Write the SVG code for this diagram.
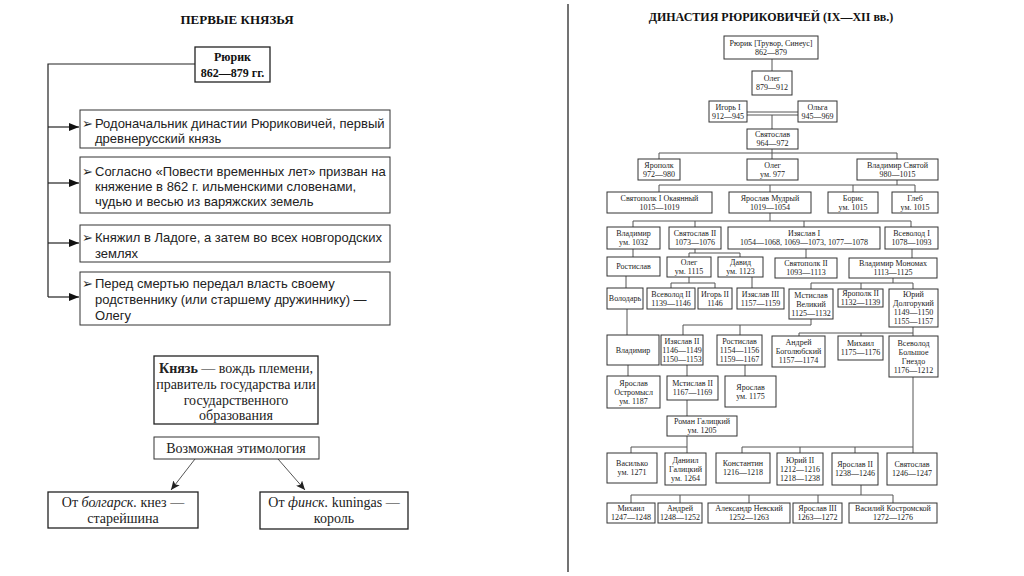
<svg xmlns="http://www.w3.org/2000/svg" width="1024" height="576" viewBox="0 0 1024 576">
<defs>
<style>
.bg{fill:#fff}
.b{fill:#fff;stroke:#333;stroke-width:1}
.lb{fill:#fff;stroke:#222;stroke-width:1.3}
.t{font-family:"Liberation Serif","DejaVu Serif",serif;font-size:8px;text-anchor:middle;fill:#1a1a1a}
.lt{font-family:"Liberation Sans","DejaVu Sans",sans-serif;font-size:13px;fill:#222}
.ct{font-family:"Liberation Serif","DejaVu Serif",serif;font-size:14px;fill:#222;text-anchor:middle}
.hd{font-family:"Liberation Serif","DejaVu Serif",serif;font-weight:bold;fill:#111;text-anchor:middle}
.c{fill:none;stroke:#555;stroke-width:1}
.lc{fill:none;stroke:#222;stroke-width:1.2}
.bul{font-family:"DejaVu Sans",sans-serif;font-size:13px;fill:#222}
</style>
<marker id="ah" markerUnits="userSpaceOnUse" markerWidth="10" markerHeight="8" refX="10" refY="4" orient="auto">
<path d="M0,0 L10,4 L0,8 z" fill="#111"/>
</marker>
<marker id="ah2" markerUnits="userSpaceOnUse" markerWidth="9" markerHeight="8" refX="9" refY="4" orient="auto">
<path d="M0,0 L9,4 L0,8 L2,4 z" fill="#222"/>
</marker>
</defs>
<rect class="bg" x="0" y="0" width="1024" height="576"/>
<line x1="568" y1="4" x2="568" y2="572" stroke="#444" stroke-width="1.5"/>

<!-- LEFT PANEL -->
<text class="hd" x="237" y="24" font-size="13">ПЕРВЫЕ КНЯЗЬЯ</text>

<g id="left-connectors">
<path class="lc" d="M195,64 H48 V297"/>
<path class="lc" d="M48,127 H79" marker-end="url(#ah)"/>
<path class="lc" d="M48,183 H79" marker-end="url(#ah)"/>
<path class="lc" d="M48,243 H79" marker-end="url(#ah)"/>
<path class="lc" d="M48,297 H79" marker-end="url(#ah)"/>
<path class="c" d="M195,459 L171,490" marker-end="url(#ah2)"/>
<path class="c" d="M278,459 L305,490" marker-end="url(#ah2)"/>
</g>

<g id="rurik-left">
<rect class="lb" x="195" y="47" width="75" height="35"/>
<text class="hd" font-size="12"><tspan x="232.5" y="61">Рюрик</tspan><tspan x="232.5" y="77">862—879 гг.</tspan></text>
</g>

<g id="fact1">
<rect class="b" x="80" y="110" width="310" height="38"/>
<text class="bul" x="82" y="128">➢</text>
<text class="lt"><tspan x="95" y="128">Родоначальник династии Рюриковичей, первый</tspan><tspan x="95" y="143">древнерусский князь</tspan></text>
</g>
<g id="fact2">
<rect class="b" x="80" y="157" width="310" height="56"/>
<text class="bul" x="82" y="176">➢</text>
<text class="lt"><tspan x="95" y="176">Согласно «Повести временных лет» призван на</tspan><tspan x="95" y="191">княжение в 862 г. ильменскими словенами,</tspan><tspan x="95" y="206">чудью и весью из варяжских земель</tspan></text>
</g>
<g id="fact3">
<rect class="b" x="80" y="225" width="310" height="37"/>
<text class="bul" x="82" y="242">➢</text>
<text class="lt"><tspan x="95" y="242">Княжил в Ладоге, а затем во всех новгородских</tspan><tspan x="95" y="258">землях</tspan></text>
</g>
<g id="fact4">
<rect class="b" x="80" y="272" width="310" height="53"/>
<text class="bul" x="82" y="288">➢</text>
<text class="lt"><tspan x="95" y="288">Перед смертью передал власть своему</tspan><tspan x="95" y="304">родственнику (или старшему дружиннику) —</tspan><tspan x="95" y="320">Олегу</tspan></text>
</g>

<g id="definition">
<rect class="lb" x="154" y="356" width="164" height="68"/>
<text class="ct" font-size="13"><tspan x="236" y="373"><tspan font-weight="bold">Князь</tspan> — вождь племени,</tspan><tspan x="236" y="389">правитель государства или</tspan><tspan x="236" y="405">государственного</tspan><tspan x="236" y="420">образования</tspan></text>
</g>
<g id="etymology">
<rect class="b" x="154" y="437" width="165" height="22"/>
<text class="ct" x="236" y="453">Возможная этимология</text>
</g>
<g id="bulgar">
<rect class="lb" x="48" y="492" width="150" height="36"/>
<text class="ct"><tspan x="123" y="507">От <tspan font-style="italic">болгарск.</tspan> кнез —</tspan><tspan x="123" y="523">старейшина</tspan></text>
</g>
<g id="finn">
<rect class="lb" x="260" y="492" width="148" height="37"/>
<text class="ct"><tspan x="334" y="507">От <tspan font-style="italic">финск.</tspan> kuningas —</tspan><tspan x="334" y="523">король</tspan></text>
</g>

<!-- RIGHT PANEL -->
<text class="hd" x="771" y="21" font-size="12">ДИНАСТИЯ РЮРИКОВИЧЕЙ (IX—XII вв.)</text>

<g id="tree-connectors">
<path class="c" d="M772,59 V71"/>
<path class="c" d="M747,112 H798 M747,115 H798"/>
<path class="c" d="M772,115 V129"/>
<path class="c" d="M772,149 V159 M659,159 V153 H897 V159"/>
<path class="c" d="M897,180 V185 M659,192 V185 H915 V192 M770,185 V192 M853,185 V192"/>
<path class="c" d="M770,213 V221 M633,227 V221 H911 V227 M695,221 V227 M804,221 V227"/>
<path class="c" d="M633,249 V257"/>
<path class="c" d="M695,249 V253 M689,257 V253 H740 V257"/>
<path class="c" d="M806,249 V258"/>
<path class="c" d="M912,249 V258"/>
<path class="c" d="M626,276 V288"/>
<path class="c" d="M689,277 V283 M671,288 V283 H715 V288"/>
<path class="c" d="M752,277 V288"/>
<path class="c" d="M893,278 V283 M811,289 V283 H913 V289 M861,283 V289"/>
<path class="c" d="M627,309 V335"/>
<path class="c" d="M811,319 V325 H683 V335 M740,325 V335"/>
<path class="c" d="M913,327 V336 M799,336 V333 H913 M861,333 V336"/>
<path class="c" d="M628,365 V376"/>
<path class="c" d="M687,365 V376"/>
<path class="c" d="M745,365 V376"/>
<path class="c" d="M687,400 V416"/>
<path class="c" d="M687,436 V453 M631,453 V447 H687"/>
<path class="c" d="M913,377 V453 M742,453 V447 H913 M800,447 V453 M855,447 V453"/>
<path class="c" d="M861,485 V495 M631,503 V495 H893 V503 M680,495 V503 M749,495 V503 M818,495 V503"/>
</g>

<g id="n-rurik"><rect class="b" x="724" y="36" width="94" height="23"/><text class="t"><tspan x="771" y="45.8">Рюрик [Трувор, Синеус]</tspan><tspan x="771" y="54.8">862—879</tspan></text></g>
<g id="n-oleg"><rect class="b" x="752" y="71" width="40" height="24"/><text class="t"><tspan x="772" y="81.3">Олег</tspan><tspan x="772" y="90.3">879—912</tspan></text></g>
<g id="n-igor"><rect class="b" x="709" y="101" width="38" height="21"/><text class="t"><tspan x="728" y="109.8">Игорь I</tspan><tspan x="728" y="118.8">912—945</tspan></text></g>
<g id="n-olga"><rect class="b" x="798" y="101" width="39" height="21"/><text class="t"><tspan x="817.5" y="109.8">Ольга</tspan><tspan x="817.5" y="118.8">945—969</tspan></text></g>
<g id="n-svyatoslav"><rect class="b" x="747" y="129" width="51" height="20"/><text class="t"><tspan x="772.5" y="137.3">Святослав</tspan><tspan x="772.5" y="146.3">964—972</tspan></text></g>
<g id="n-yaropolk"><rect class="b" x="638" y="159" width="42" height="21"/><text class="t"><tspan x="659" y="167.8">Ярополк</tspan><tspan x="659" y="176.8">972—980</tspan></text></g>
<g id="n-oleg2"><rect class="b" x="747" y="159" width="51" height="21"/><text class="t"><tspan x="772.5" y="167.8">Олег</tspan><tspan x="772.5" y="176.8">ум. 977</tspan></text></g>
<g id="n-vladimir-svyatoy"><rect class="b" x="857" y="159" width="81" height="21"/><text class="t"><tspan x="897.5" y="167.8">Владимир Святой</tspan><tspan x="897.5" y="176.8">980—1015</tspan></text></g>
<g id="n-svyatopolk1"><rect class="b" x="607" y="192" width="105" height="21"/><text class="t"><tspan x="659.5" y="200.8">Святополк I Окаянный</tspan><tspan x="659.5" y="209.8">1015—1019</tspan></text></g>
<g id="n-yaroslav-mudry"><rect class="b" x="729" y="192" width="82" height="21"/><text class="t"><tspan x="770" y="200.8">Ярослав Мудрый</tspan><tspan x="770" y="209.8">1019—1054</tspan></text></g>
<g id="n-boris"><rect class="b" x="828" y="192" width="50" height="21"/><text class="t"><tspan x="853" y="200.8">Борис</tspan><tspan x="853" y="209.8">ум. 1015</tspan></text></g>
<g id="n-gleb"><rect class="b" x="892" y="192" width="46" height="21"/><text class="t"><tspan x="915" y="200.8">Глеб</tspan><tspan x="915" y="209.8">ум. 1015</tspan></text></g>
<g id="n-vladimir2"><rect class="b" x="607" y="227" width="53" height="22"/><text class="t"><tspan x="633.5" y="236.3">Владимир</tspan><tspan x="633.5" y="245.3">ум. 1032</tspan></text></g>
<g id="n-svyatoslav2"><rect class="b" x="669" y="227" width="52" height="22"/><text class="t"><tspan x="695" y="236.3">Святослав II</tspan><tspan x="695" y="245.3">1073—1076</tspan></text></g>
<g id="n-izyaslav1"><rect class="b" x="728" y="227" width="152" height="22"/><text class="t"><tspan x="804" y="236.3">Изяслав I</tspan><tspan x="804" y="245.3">1054—1068, 1069—1073, 1077—1078</tspan></text></g>
<g id="n-vsevolod1"><rect class="b" x="885" y="227" width="53" height="22"/><text class="t"><tspan x="911.5" y="236.3">Всеволод I</tspan><tspan x="911.5" y="245.3">1078—1093</tspan></text></g>
<g id="n-rostislav1"><rect class="b" x="607" y="257" width="53" height="19"/><text class="t" x="633.5" y="269.3">Ростислав</text></g>
<g id="n-oleg3"><rect class="b" x="667" y="257" width="44" height="20"/><text class="t"><tspan x="689" y="265.3">Олег</tspan><tspan x="689" y="274.3">ум. 1115</tspan></text></g>
<g id="n-david"><rect class="b" x="718" y="257" width="45" height="20"/><text class="t"><tspan x="740.5" y="265.3">Давид</tspan><tspan x="740.5" y="274.3">ум. 1123</tspan></text></g>
<g id="n-svyatopolk2"><rect class="b" x="775" y="258" width="62" height="20"/><text class="t"><tspan x="806" y="266.3">Святополк II</tspan><tspan x="806" y="275.3">1093—1113</tspan></text></g>
<g id="n-monomakh"><rect class="b" x="849" y="258" width="88" height="20"/><text class="t"><tspan x="893" y="266.3">Владимир Мономах</tspan><tspan x="893" y="275.3">1113—1125</tspan></text></g>
<g id="n-volodar"><rect class="b" x="607" y="288" width="36" height="21"/><text class="t" x="625" y="301.3">Володарь</text></g>
<g id="n-vsevolod2"><rect class="b" x="647" y="288" width="48" height="21"/><text class="t"><tspan x="671" y="296.8">Всеволод II</tspan><tspan x="671" y="305.8">1139—1146</tspan></text></g>
<g id="n-igor2"><rect class="b" x="698" y="288" width="34" height="21"/><text class="t"><tspan x="715" y="296.8">Игорь II</tspan><tspan x="715" y="305.8">1146</tspan></text></g>
<g id="n-izyaslav3"><rect class="b" x="737" y="288" width="47" height="21"/><text class="t"><tspan x="760.5" y="296.8">Изяслав III</tspan><tspan x="760.5" y="305.8">1157—1159</tspan></text></g>
<g id="n-mstislav-veliky"><rect class="b" x="789" y="289" width="44" height="30"/><text class="t"><tspan x="811" y="297.8">Мстислав</tspan><tspan x="811" y="306.8">Великий</tspan><tspan x="811" y="315.8">1125—1132</tspan></text></g>
<g id="n-yaropolk2"><rect class="b" x="838" y="289" width="45" height="18"/><text class="t"><tspan x="860.5" y="296.3">Ярополк II</tspan><tspan x="860.5" y="305.3">1132—1139</tspan></text></g>
<g id="n-yuri-dolgoruky"><rect class="b" x="889" y="289" width="49" height="38"/><text class="t"><tspan x="913.5" y="297.3">Юрий</tspan><tspan x="913.5" y="306.3">Долгорукий</tspan><tspan x="913.5" y="315.3">1149—1150</tspan><tspan x="913.5" y="324.3">1155—1157</tspan></text></g>
<g id="n-vladimir3"><rect class="b" x="607" y="335" width="52" height="30"/><text class="t" x="633" y="352.8">Владимир</text></g>
<g id="n-izyaslav2"><rect class="b" x="661" y="335" width="42" height="30"/><text class="t"><tspan x="682" y="343.8">Изяслав II</tspan><tspan x="682" y="352.8">1146—1149</tspan><tspan x="682" y="361.8">1150—1153</tspan></text></g>
<g id="n-rostislav2"><rect class="b" x="717" y="335" width="45" height="30"/><text class="t"><tspan x="739.5" y="343.8">Ростислав</tspan><tspan x="739.5" y="352.8">1154—1156</tspan><tspan x="739.5" y="361.8">1159—1167</tspan></text></g>
<g id="n-andrey-bogolyubsky"><rect class="b" x="772" y="336" width="53" height="31"/><text class="t"><tspan x="798.5" y="345.3">Андрей</tspan><tspan x="798.5" y="354.3">Боголюбский</tspan><tspan x="798.5" y="363.3">1157—1174</tspan></text></g>
<g id="n-mikhail1"><rect class="b" x="838" y="336" width="45" height="24"/><text class="t"><tspan x="860.5" y="346.3">Михаил</tspan><tspan x="860.5" y="355.3">1175—1176</tspan></text></g>
<g id="n-vsevolod-bg"><rect class="b" x="889" y="336" width="49" height="41"/><text class="t"><tspan x="913.5" y="345.8">Всеволод</tspan><tspan x="913.5" y="354.8">Большое</tspan><tspan x="913.5" y="363.8">Гнездо</tspan><tspan x="913.5" y="372.8">1176—1212</tspan></text></g>
<g id="n-yaroslav-osmomysl"><rect class="b" x="607" y="376" width="53" height="32"/><text class="t"><tspan x="633.5" y="385.8">Ярослав</tspan><tspan x="633.5" y="394.8">Остромысл</tspan><tspan x="633.5" y="403.8">ум. 1187</tspan></text></g>
<g id="n-mstislav2"><rect class="b" x="667" y="376" width="51" height="24"/><text class="t"><tspan x="692.5" y="386.3">Мстислав II</tspan><tspan x="692.5" y="395.3">1167—1169</tspan></text></g>
<g id="n-yaroslav-r"><rect class="b" x="725" y="376" width="51" height="31"/><text class="t"><tspan x="750.5" y="389.8">Ярослав</tspan><tspan x="750.5" y="398.8">ум. 1175</tspan></text></g>
<g id="n-roman"><rect class="b" x="667" y="416" width="70" height="20"/><text class="t"><tspan x="702" y="424.3">Роман Галицкий</tspan><tspan x="702" y="433.3">ум. 1205</tspan></text></g>
<g id="n-vasilko"><rect class="b" x="607" y="453" width="50" height="30"/><text class="t"><tspan x="632" y="466.3">Василько</tspan><tspan x="632" y="475.3">ум. 1271</tspan></text></g>
<g id="n-daniil"><rect class="b" x="665" y="453" width="41" height="32"/><text class="t"><tspan x="685.5" y="462.8">Даниил</tspan><tspan x="685.5" y="471.8">Галицкий</tspan><tspan x="685.5" y="480.8">ум. 1264</tspan></text></g>
<g id="n-konstantin"><rect class="b" x="716" y="453" width="54" height="30"/><text class="t"><tspan x="743" y="466.3">Константин</tspan><tspan x="743" y="475.3">1216—1218</tspan></text></g>
<g id="n-yuri2"><rect class="b" x="777" y="453" width="46" height="32"/><text class="t"><tspan x="800" y="462.8">Юрий II</tspan><tspan x="800" y="471.8">1212—1216</tspan><tspan x="800" y="480.8">1218—1238</tspan></text></g>
<g id="n-yaroslav2"><rect class="b" x="832" y="453" width="46" height="32"/><text class="t"><tspan x="855" y="467.3">Ярослав II</tspan><tspan x="855" y="476.3">1238—1246</tspan></text></g>
<g id="n-svyatoslav3"><rect class="b" x="887" y="453" width="50" height="32"/><text class="t"><tspan x="912" y="467.3">Святослав</tspan><tspan x="912" y="476.3">1246—1247</tspan></text></g>
<g id="n-mikhail2"><rect class="b" x="607" y="503" width="48" height="20"/><text class="t"><tspan x="631" y="511.3">Михаил</tspan><tspan x="631" y="520.3">1247—1248</tspan></text></g>
<g id="n-andrey2"><rect class="b" x="658" y="503" width="44" height="20"/><text class="t"><tspan x="680" y="511.3">Андрей</tspan><tspan x="680" y="520.3">1248—1252</tspan></text></g>
<g id="n-alexander"><rect class="b" x="708" y="503" width="82" height="20"/><text class="t"><tspan x="749" y="511.3">Александр Невский</tspan><tspan x="749" y="520.3">1252—1263</tspan></text></g>
<g id="n-yaroslav3"><rect class="b" x="793" y="503" width="49" height="20"/><text class="t"><tspan x="817.5" y="511.3">Ярослав III</tspan><tspan x="817.5" y="520.3">1263—1272</tspan></text></g>
<g id="n-vasily"><rect class="b" x="849" y="503" width="88" height="20"/><text class="t"><tspan x="893" y="511.3">Василий Костромской</tspan><tspan x="893" y="520.3">1272—1276</tspan></text></g>
</svg>
